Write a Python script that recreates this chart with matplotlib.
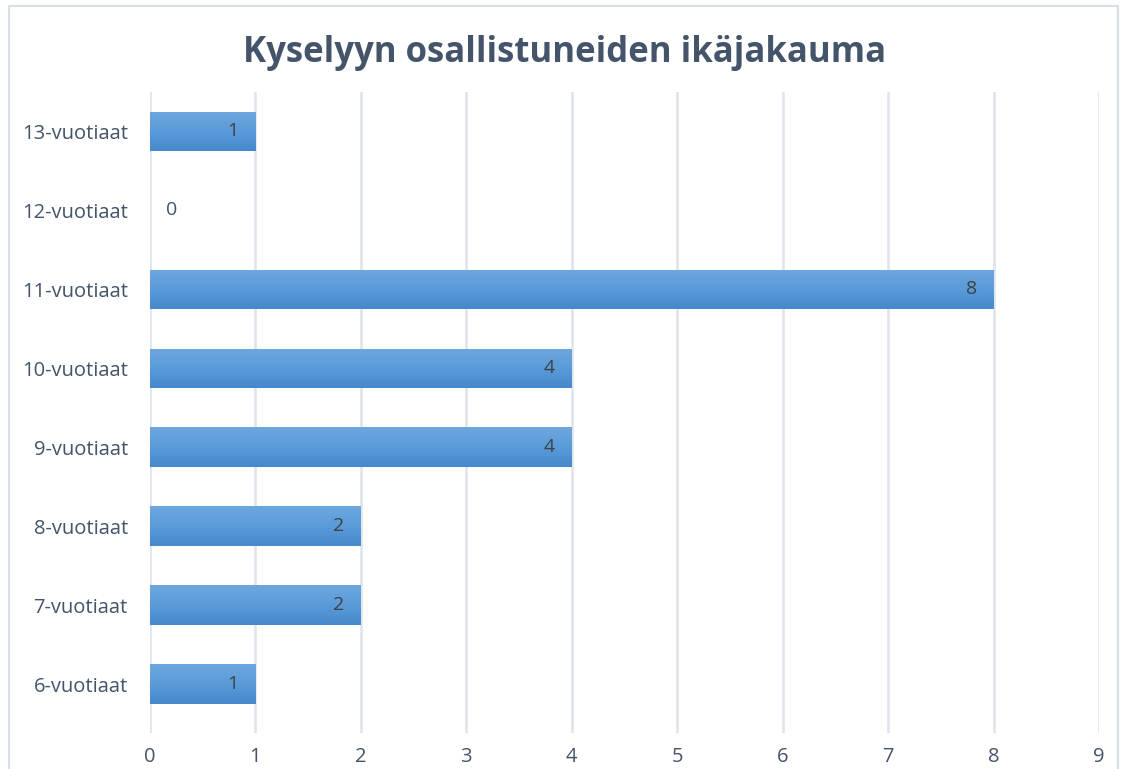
import matplotlib
matplotlib.use("Agg")
import matplotlib.pyplot as plt
import numpy as np
from matplotlib.patches import Rectangle
from matplotlib.colors import LinearSegmentedColormap

categories = ["6-vuotiaat", "7-vuotiaat", "8-vuotiaat", "9-vuotiaat",
              "10-vuotiaat", "11-vuotiaat", "12-vuotiaat", "13-vuotiaat"]
counts = [1, 2, 2, 4, 4, 8, 0, 1]
x_ticks = list(range(0, 10))

title = "Kyselyyn osallistuneiden ikäjakauma"
text_col = "#44546a"
grid_col = "#dfe3ea"

plt.rcParams["font.family"] = ["Open Sans", "DejaVu Sans"]

fig = plt.figure(figsize=(11.22, 7.69), dpi=100)
ax = fig.add_axes([150 / 1122, 1 - 733 / 769, 949 / 1122, 641 / 769])

# outer chart border (bottom runs off the image)
fig.patches.append(Rectangle((9 / 1122, -0.05), 1109 / 1122, 1.05 - 6 / 769,
                             transform=fig.transFigure, fill=False,
                             edgecolor="#d9dde5", linewidth=1.5))

y = np.arange(len(categories))
bar_h = 0.5
bars = ax.barh(y, counts, height=bar_h, color="#5b9bd5", zorder=2)

# vertical gradient on each bar, lighter at the top
grad = np.linspace(0, 1, 64).reshape(-1, 1)
cmap = LinearSegmentedColormap.from_list("g", ["#6da7de", "#5a9bd9", "#4589cc"])
for b, v in zip(bars, counts):
    if v <= 0:
        continue
    x0, y0 = b.get_x(), b.get_y()
    im = ax.imshow(grad, extent=(x0, x0 + v, y0, y0 + bar_h), aspect="auto",
                   origin="upper", cmap=cmap, zorder=3, interpolation="bicubic")
    im.set_clip_path(b)
    b.set_alpha(0)

for yi, v in zip(y, counts):
    if v > 0:
        ax.text(v - 0.16, yi, str(v), ha="right", va="center",
                fontsize=14, color="#404040", zorder=4)
    else:
        ax.text(0.15, yi, str(v), ha="left", va="center",
                fontsize=14, color=text_col, zorder=4)

ax.set_xlim(0, 9)
ax.set_ylim(-0.62, 7.5)
ax.set_xticks(x_ticks)
ax.set_yticks(y)
ax.set_yticklabels(categories)
ax.tick_params(axis="both", length=0, labelsize=14.5, colors=text_col)
ax.tick_params(axis="x", pad=10)
ax.tick_params(axis="y", pad=16)
ax.grid(axis="x", color=grid_col, linewidth=1.8, zorder=0)
ax.set_axisbelow(True)
for s in ax.spines.values():
    s.set_visible(False)

fig.text(565 / 1122, 1 - 53 / 769, title, ha="center", va="center",
         fontsize=25, fontweight="bold", color=text_col)

fig.savefig("out.png", dpi=100)
